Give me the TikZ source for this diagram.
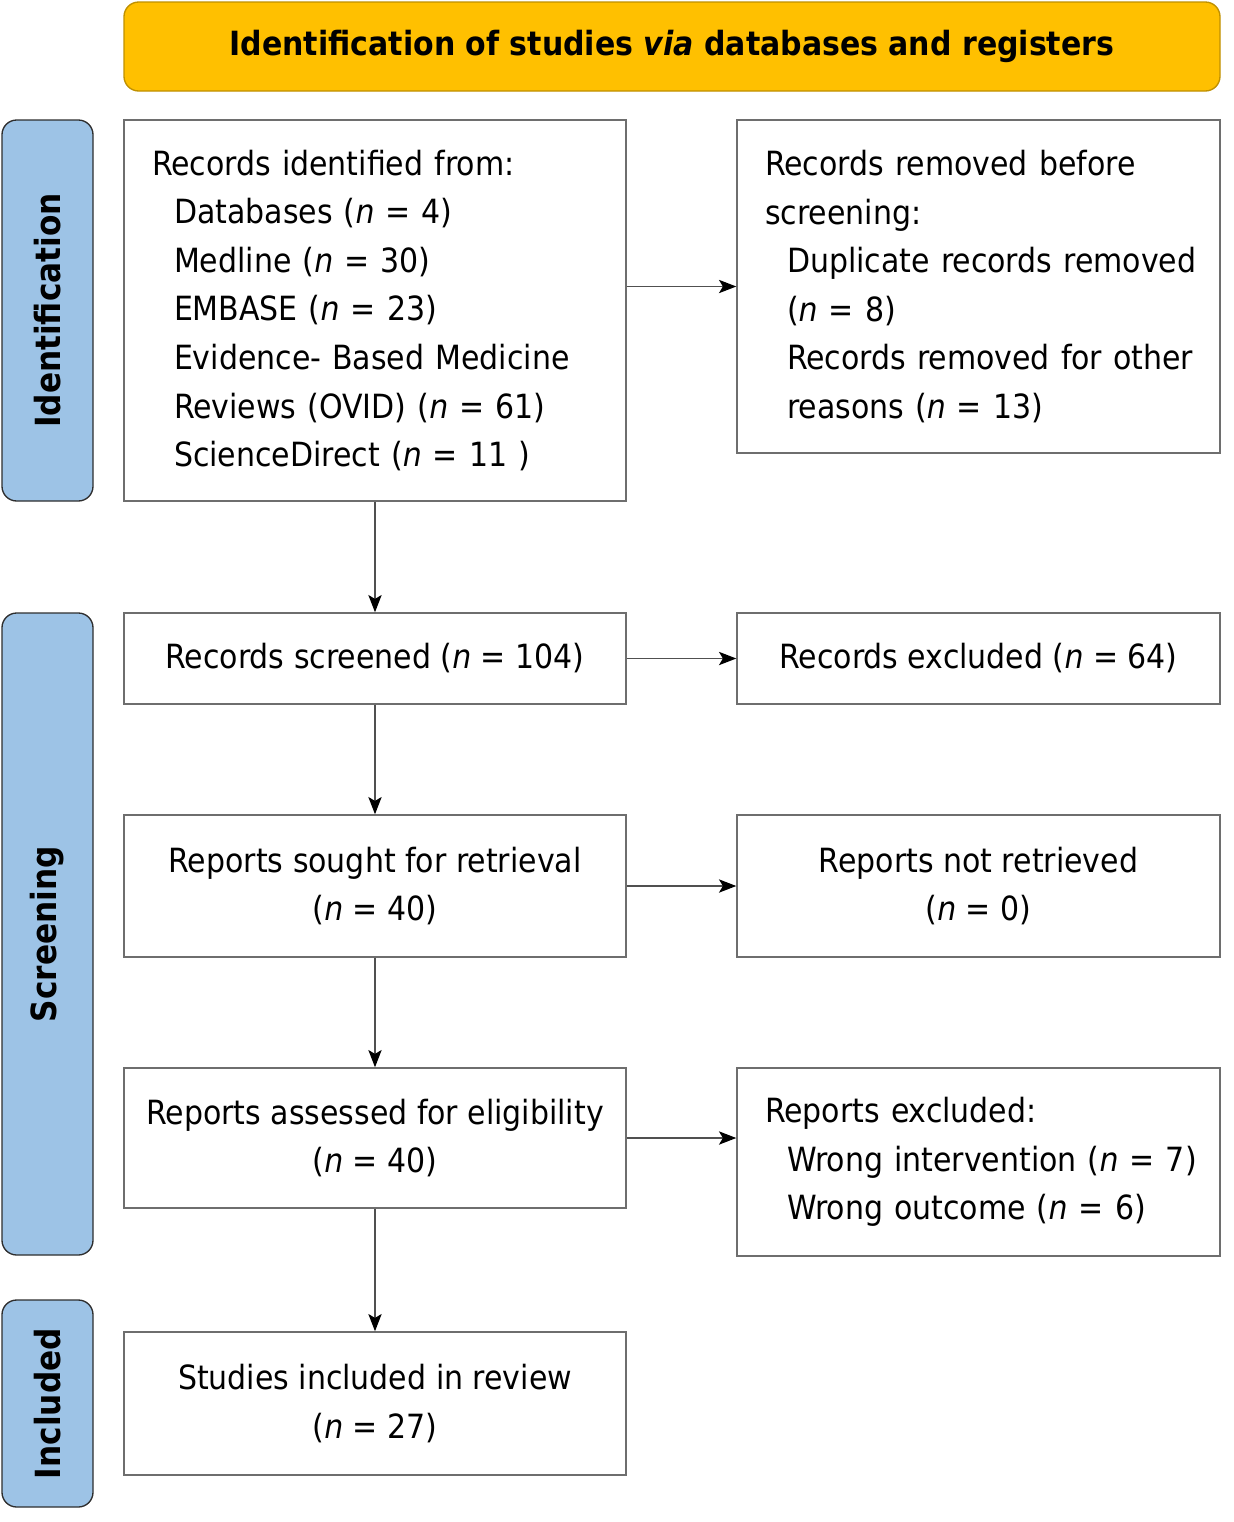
\documentclass[tikz,border=0pt]{standalone}
\usepackage{fontspec}
\setmainfont{DejaVu Sans Condensed}
\usetikzlibrary{arrows.meta}
\definecolor{titlefill}{HTML}{FFC000}
\definecolor{titledraw}{HTML}{BF9000}
\definecolor{sidefill}{HTML}{9DC3E6}
\definecolor{sidedraw}{HTML}{2E2E2E}
\definecolor{boxdraw}{HTML}{6E6E6E}
\definecolor{arrowdraw}{HTML}{505050}
\begin{document}
\begin{tikzpicture}[x=0.75pt,y=-0.75pt,
  bodyfont/.style={font=\fontsize{25pt}{36.4pt}\selectfont},
  titlebox/.style={draw=titledraw, fill=titlefill, line width=1pt, rounded corners=11pt,
    minimum width=822pt, minimum height=66.75pt, inner sep=0pt,
    font=\fontsize{25pt}{30pt}\selectfont\bfseries},
  sidebox/.style={draw=sidedraw, fill=sidefill, line width=1pt, rounded corners=11pt,
    minimum width=68.25pt, inner sep=0pt},
  sidelabel/.style={rotate=90, font=\fontsize{26pt}{30pt}\selectfont\bfseries},
  flowbox/.style={draw=boxdraw, line width=1.1pt, inner ysep=0pt, bodyfont},
  leftbox/.style={flowbox, text width=#1, inner xsep=21pt, align=left},
  centerbox/.style={flowbox, inner xsep=0pt, align=center},
  flowarrow/.style={draw=arrowdraw, line width=0.9pt,
    -{Stealth[length=13pt, width=10pt, inset=3pt, color=black, fill=black]}},
]
\useasboundingbox (0,0) rectangle (1233,1522);

\node[titlebox] (title) at (672,46.5) {Identification of studies \textit{via} databases and registers};

\node[sidebox, minimum height=285.75pt] (sideid) at (47.5,310.5) {};
\node[sidelabel] (sideidl) at (sideid.center) {Identification};
\node[sidebox, minimum height=481.5pt] (sidescr) at (47.5,934) {};
\node[sidelabel] (sidescrl) at (sidescr.center) {Screening};
\node[sidebox, minimum height=155.25pt] (sideinc) at (47.5,1403.5) {};
\node[sidelabel] (sideincl) at (sideinc.center) {Included};

\newcommand{\indline}[1]{\mbox{\hspace*{16.5pt}#1}}
\newcommand{\plainline}[1]{\mbox{#1}}
\newcommand{\nn}{\textit{n}}

\node[leftbox=334.5pt, minimum height=285.75pt] (ident) at (375,310.5)
  {\plainline{Records identified from:}\\
   \indline{Databases (\nn{} = 4)}\\
   \indline{Medline (\nn{} = 30)}\\
   \indline{EMBASE (\nn{} = 23)}\\
   \indline{Evidence- Based Medicine}\\
   \indline{Reviews (OVID) (\nn{} = 61)}\\
   \indline{ScienceDirect (\nn{} = 11 )}};

\node[leftbox=320.25pt, minimum height=249.75pt] (removed) at (978.5,286.5)
  {\plainline{Records removed before}\\
   \plainline{screening:}\\
   \indline{Duplicate records removed}\\
   \indline{(\nn{} = 8)}\\
   \indline{Records removed for other}\\
   \indline{reasons (\nn{} = 13)}};

\node[centerbox, minimum width=376.5pt, minimum height=68.25pt] (screened) at (375,658.5)
  {Records screened (\nn{} = 104)};
\node[centerbox, minimum width=362.25pt, minimum height=68.25pt] (excluded) at (978.5,658.5)
  {Records excluded (\nn{} = 64)};

\node[centerbox, minimum width=376.5pt, minimum height=106.5pt] (sought) at (375,886)
  {Reports sought for retrieval\\(\nn{} = 40)};
\node[centerbox, minimum width=362.25pt, minimum height=106.5pt] (notret) at (978.5,886)
  {Reports not retrieved\\(\nn{} = 0)};

\node[centerbox, minimum width=376.5pt, minimum height=105pt] (assessed) at (375,1138)
  {Reports assessed for eligibility\\(\nn{} = 40)};
\node[leftbox=320.25pt, minimum height=141pt] (repexc) at (978.5,1162)
  {\plainline{Reports excluded:}\\
   \indline{Wrong intervention (\nn{} = 7)}\\
   \indline{Wrong outcome (\nn{} = 6)}};

\node[centerbox, minimum width=376.5pt, minimum height=107.25pt] (included) at (375,1403.5)
  {Studies included in review\\(\nn{} = 27)};

\draw[flowarrow] (ident.east |- removed.west) -- (removed.west);
\draw[flowarrow] (ident.south) -- (screened.north);
\draw[flowarrow] (screened.east) -- (excluded.west);
\draw[flowarrow] (screened.south) -- (sought.north);
\draw[flowarrow] (sought.east) -- (notret.west);
\draw[flowarrow] (sought.south) -- (assessed.north);
\draw[flowarrow] (assessed.east) -- (assessed.east -| repexc.west);
\draw[flowarrow] (assessed.south) -- (included.north);
\end{tikzpicture}
\end{document}
